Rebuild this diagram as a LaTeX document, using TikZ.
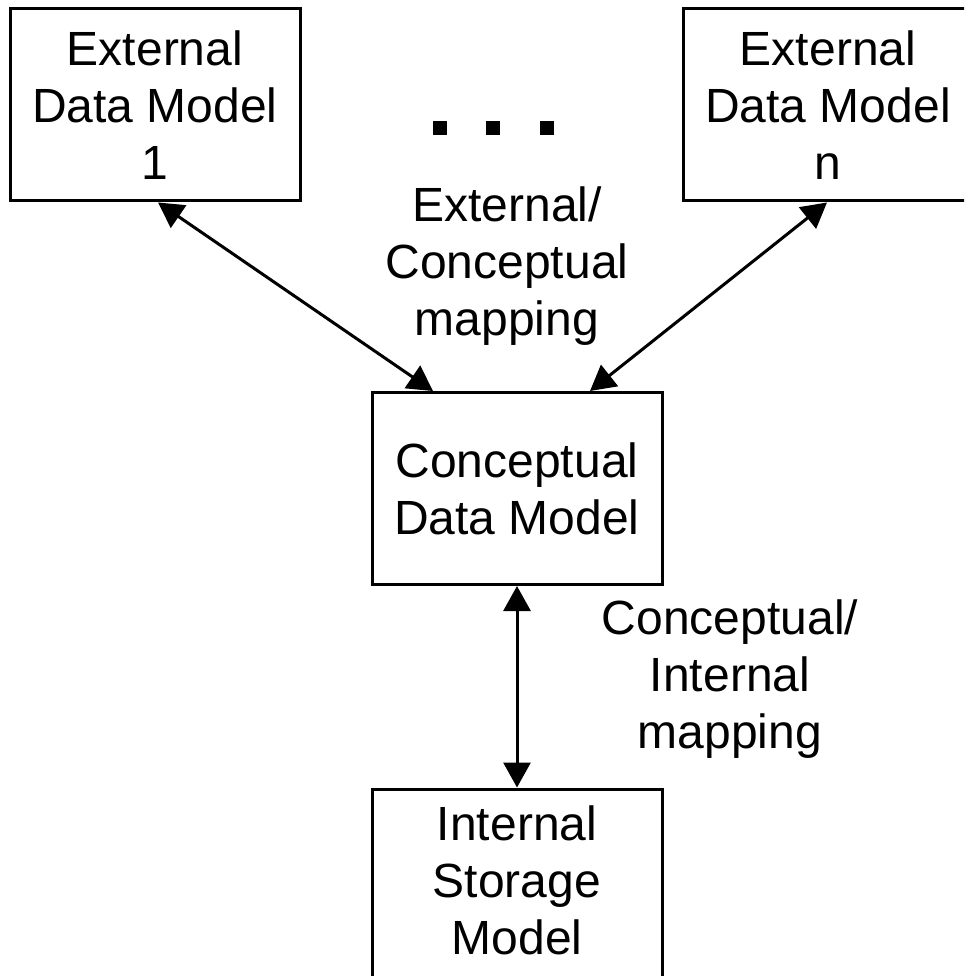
\documentclass[tikz,border=0pt]{standalone}
\usepackage{fontspec}
\setmainfont{Liberation Sans}
\usetikzlibrary{arrows.meta,calc}
\begin{document}
\begin{tikzpicture}[x=1pt,y=-1pt,
  model/.style={draw=black,line width=3pt,minimum width=290pt,minimum height=192pt,inner sep=0pt,align=center,font=\fontsize{48}{57}\selectfont},
  lbl/.style={inner sep=0pt,align=center,font=\fontsize{48}{57}\selectfont},
  dotsq/.style={fill=black,minimum size=14pt,inner sep=0pt},
  link/.style={line width=3pt,{Triangle[length=25pt,width=27pt]}-{Triangle[length=25pt,width=27pt]}}]
\useasboundingbox (0,0) rectangle (964,976);
\clip (0,0) rectangle (964,976);
\node[model] (e1) at (155,105) {External\\Data Model\\1};
\node[model] (en) at (828,105) {External\\Data Model\\n};
\node[model] (cdm) at (517,488.5) {Conceptual\\Data Model};
\node[model] (ism) at (517,885) {Internal\\Storage\\Model\rule[-9pt]{0pt}{9pt}};
\node[dotsq] (d1) at (440,128) {};
\node[dotsq] (d2) at (493,128) {};
\node[dotsq] (d3) at (547,128) {};
\node[lbl] (ecl) at (507,266) {External/\\Conceptual\\mapping};
\node[lbl] (cil) at (730,679) {Conceptual/\\Internal\\mapping};
\draw[link] ($(e1.south)+(3,0)$) -- ($(cdm.north)+(-84,0)$);
\draw[link] ($(en.south)+(-1,0)$) -- ($(cdm.north)+(73,0)$);
\draw[link] (cdm.south) -- (ism.north);
\end{tikzpicture}
\end{document}
